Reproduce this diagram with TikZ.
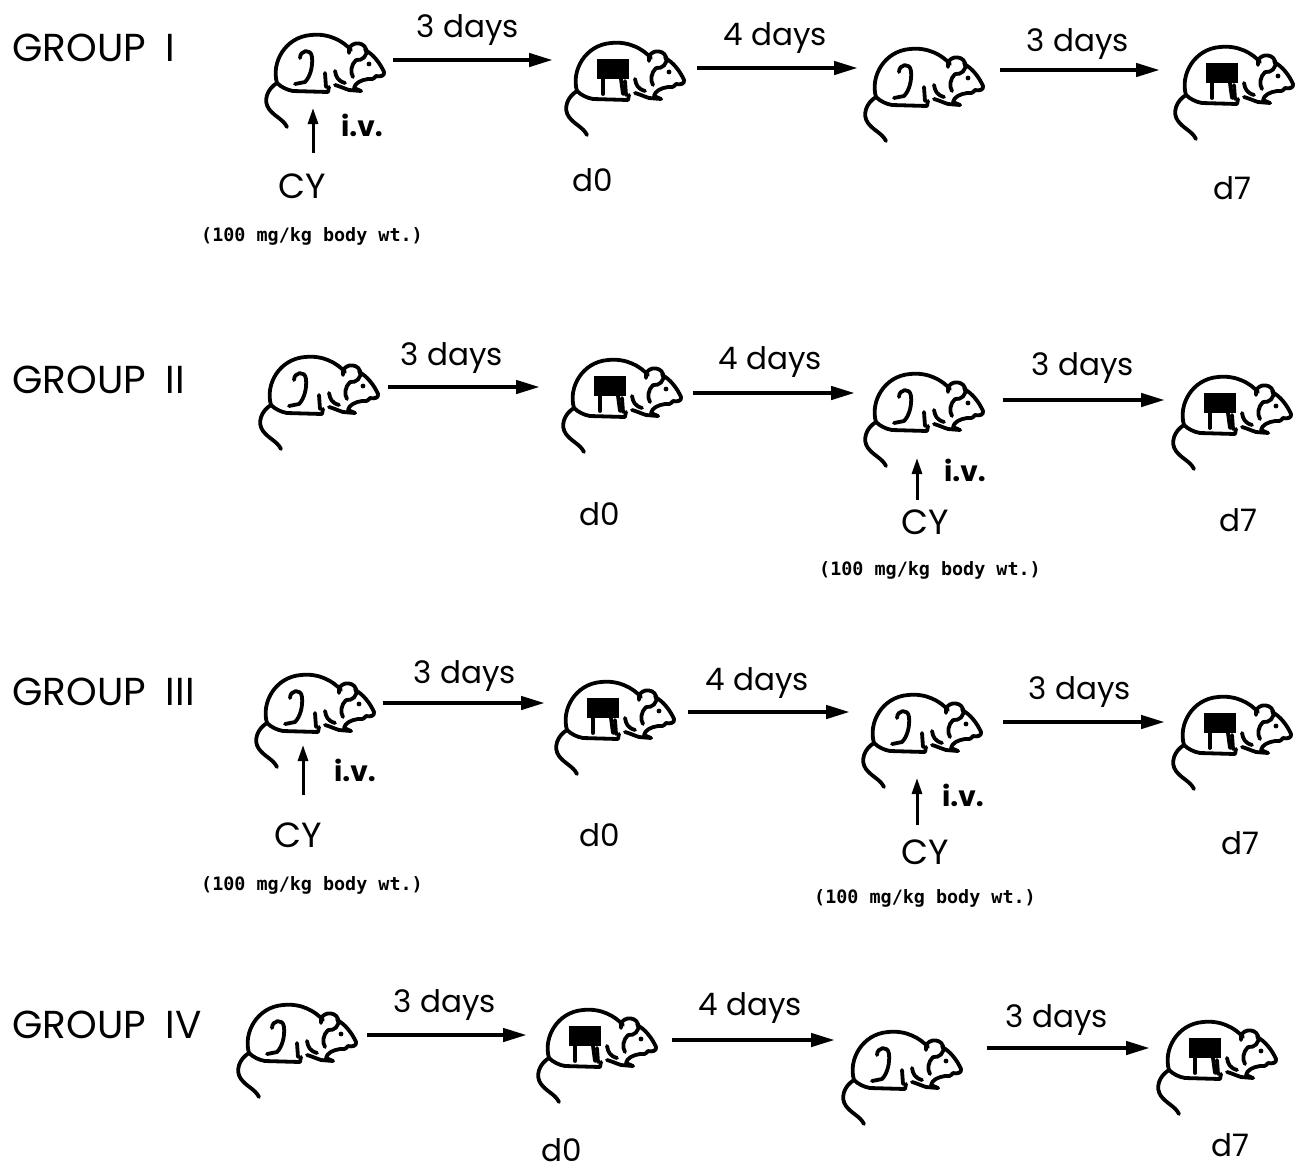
\documentclass[tikz,border=0pt]{standalone}
\usepackage{fontspec}
\setmainfont{Poppins}
\newfontfamily\dosefont{DejaVu Sans Mono}
\usetikzlibrary{arrows.meta}

\newif\ifpatch
\tikzset{
  % outline mouse, origin = tail tip left / top of back
  mousebody/.style={line width=1.9pt, line cap=round, line join=round},
  mouse/.pic={
    \begin{scope}[mousebody]
      % back and rump
      \draw (14,50) .. controls (8,30) and (22,4) .. (48,2)
                    .. controls (66,0) and (80,8) .. (88,17);
      % ear
      \draw (86,20) .. controls (84,9) and (100,7) .. (103,16)
                    .. controls (105,23) and (99,28) .. (93,27);
      % cheek
      \draw (93,27) .. controls (88,32) and (87,39) .. (90,44);
      % head, nose, mouth
      \draw (102,17) .. controls (110,21) and (117,30) .. (121,39)
                     .. controls (122,43) and (117,44) .. (113,43)
                     .. controls (111,46) and (108,47) .. (105,46);
      % chest and front paw
      \draw (105,46) .. controls (98,47) and (92,50) .. (91,55) -- (98,58);
      \draw (98,58) -- (86,57) .. controls (80,55) and (76,53) .. (72,52);
      % hind foot and belly
      \draw (66,54) -- (65,59) -- (30,58) .. controls (24,57) and (18,54) .. (14,50);
      % fore legs
      \draw (62,40) -- (63,54);
      \draw (72,38) .. controls (73,44) and (75,48) .. (82,50);
      % tail
      \draw (14,50) .. controls (4,56) and (0,68) .. (6,76)
                    .. controls (12,84) and (20,86) .. (24,94);
      % eye
      \fill (106,31) circle (2.4);
      \ifpatch
        \fill (34,18) rectangle (66,38);
        \draw (40,38) -- (40,53);
        \draw (58,38) -- (60,53);
      \else
        % thigh
        \draw (37,25) .. controls (37,17) and (48,15) .. (49,24)
                      .. controls (50,34) and (47,44) .. (42,49) -- (32,51);
      \fi
    \end{scope}
  },
  plainmouse/.pic={\patchfalse \pic {mouse};},
  patchmouse/.pic={\patchtrue \pic {mouse};},
  dayarrow/.style={line width=2.2pt, -{Triangle[length=12pt,width=6.5pt]}},
  ivarrow/.style={line width=1.5pt, -{Triangle[length=8pt,width=5pt]}},
  grouplbl/.style={anchor=west, inner sep=0pt, font=\fontsize{19.5}{19.5}\selectfont},
  daylbl/.style={inner sep=0pt, font=\fontsize{15.5}{15.5}\selectfont},
  cylbl/.style={inner sep=0pt, font=\fontsize{17.5}{17.5}\selectfont},
  ivlbl/.style={inner sep=0pt, font=\fontsize{14}{14}\selectfont\bfseries},
  doselbl/.style={inner sep=0pt, font=\dosefont\bfseries\fontsize{9.2}{9.2}\selectfont},
}

\begin{document}
\begin{tikzpicture}[x=0.5pt, y=-0.5pt]
\useasboundingbox (0,0) rectangle (1296,1174);

% ---------------- GROUP I ----------------
\node[grouplbl] (g1) at (12,48) {GROUP\hspace{10pt}I};
\pic at (263,33) {plainmouse};
\pic at (563,41) {patchmouse};
\pic at (862,47) {plainmouse};
\pic at (1172,45) {patchmouse};
\coordinate (a11s) at (393,60);  \coordinate (a11e) at (553,60);
\coordinate (a12s) at (697,68);  \coordinate (a12e) at (858,68);
\coordinate (a13s) at (1000,70); \coordinate (a13e) at (1160,70);
\draw[dayarrow] (a11s) -- (a11e);
\draw[dayarrow] (a12s) -- (a12e);
\draw[dayarrow] (a13s) -- (a13e);
\node[daylbl] (t11) at (468,30) {3 days};
\node[daylbl] (t12) at (775,38) {4 days};
\node[daylbl] (t13) at (1078,44) {3 days};
\coordinate (iv1s) at (313,153); \coordinate (iv1e) at (313,108);
\draw[ivarrow] (iv1s) -- (iv1e);
\node[ivlbl] (iv1) at (362,125) {i.v.};
\node[cylbl] (cy1) at (302,186) {CY};
\node[doselbl] (ds1) at (312,236) {(100 mg/kg body wt.)};
\node[daylbl] (d01) at (593,180) {d0};
\node[daylbl] (d71) at (1232,188) {d7};

% ---------------- GROUP II ----------------
\node[grouplbl] (g2) at (12,380) {GROUP\hspace{10pt}II};
\pic at (257,355) {plainmouse};
\pic at (560,358) {patchmouse};
\pic at (862,372) {plainmouse};
\pic at (1170,375) {patchmouse};
\coordinate (a21s) at (388,387);  \coordinate (a21e) at (540,387);
\coordinate (a22s) at (693,393);  \coordinate (a22e) at (855,393);
\coordinate (a23s) at (1003,400); \coordinate (a23e) at (1165,400);
\draw[dayarrow] (a21s) -- (a21e);
\draw[dayarrow] (a22s) -- (a22e);
\draw[dayarrow] (a23s) -- (a23e);
\node[daylbl] (t21) at (452,358) {3 days};
\node[daylbl] (t22) at (770,362) {4 days};
\node[daylbl] (t23) at (1083,368) {3 days};
\coordinate (iv2s) at (917,500); \coordinate (iv2e) at (917,458);
\draw[ivarrow] (iv2s) -- (iv2e);
\node[ivlbl] (iv2) at (965,470) {i.v.};
\node[cylbl] (cy2) at (925,522) {CY};
\node[doselbl] (ds2) at (930,570) {(100 mg/kg body wt.)};
\node[daylbl] (d02) at (600,514) {d0};
\node[daylbl] (d72) at (1238,520) {d7};

% ---------------- GROUP III ----------------
\node[grouplbl] (g3) at (12,692) {GROUP\hspace{10pt}III};
\pic at (253,673) {plainmouse};
\pic at (553,680) {patchmouse};
\pic at (860,693) {plainmouse};
\pic at (1170,695) {patchmouse};
\coordinate (a31s) at (383,703);  \coordinate (a31e) at (545,703);
\coordinate (a32s) at (688,712);  \coordinate (a32e) at (850,712);
\coordinate (a33s) at (1003,722); \coordinate (a33e) at (1165,722);
\draw[dayarrow] (a31s) -- (a31e);
\draw[dayarrow] (a32s) -- (a32e);
\draw[dayarrow] (a33s) -- (a33e);
\node[daylbl] (t31) at (465,676) {3 days};
\node[daylbl] (t32) at (757,683) {4 days};
\node[daylbl] (t33) at (1080,692) {3 days};
\coordinate (iv3s) at (303,795); \coordinate (iv3e) at (303,745);
\draw[ivarrow] (iv3s) -- (iv3e);
\node[ivlbl] (iv3) at (355,770) {i.v.};
\node[cylbl] (cy3) at (298,835) {CY};
\node[doselbl] (ds3) at (312,885) {(100 mg/kg body wt.)};
\coordinate (iv4s) at (917,825); \coordinate (iv4e) at (917,778);
\draw[ivarrow] (iv4s) -- (iv4e);
\node[ivlbl] (iv4) at (963,795) {i.v.};
\node[cylbl] (cy4) at (925,852) {CY};
\node[doselbl] (ds4) at (925,898) {(100 mg/kg body wt.)};
\node[daylbl] (d03) at (600,835) {d0};
\node[daylbl] (d73) at (1240,843) {d7};

% ---------------- GROUP IV ----------------
\node[grouplbl] (g4) at (12,1025) {GROUP\hspace{10pt}IV};
\pic at (235,1003) {plainmouse};
\pic at (535,1008) {patchmouse};
\pic at (840,1030) {plainmouse};
\pic at (1155,1020) {patchmouse};
\coordinate (a41s) at (367,1035);  \coordinate (a41e) at (527,1035);
\coordinate (a42s) at (672,1040);  \coordinate (a42e) at (835,1040);
\coordinate (a43s) at (987,1048);  \coordinate (a43e) at (1150,1048);
\draw[dayarrow] (a41s) -- (a41e);
\draw[dayarrow] (a42s) -- (a42e);
\draw[dayarrow] (a43s) -- (a43e);
\node[daylbl] (t41) at (445,1005) {3 days};
\node[daylbl] (t42) at (750,1008) {4 days};
\node[daylbl] (t43) at (1057,1020) {3 days};
\node[daylbl] (d04) at (562,1150) {d0};
\node[daylbl] (d74) at (1230,1145) {d7};
\end{tikzpicture}
\end{document}
